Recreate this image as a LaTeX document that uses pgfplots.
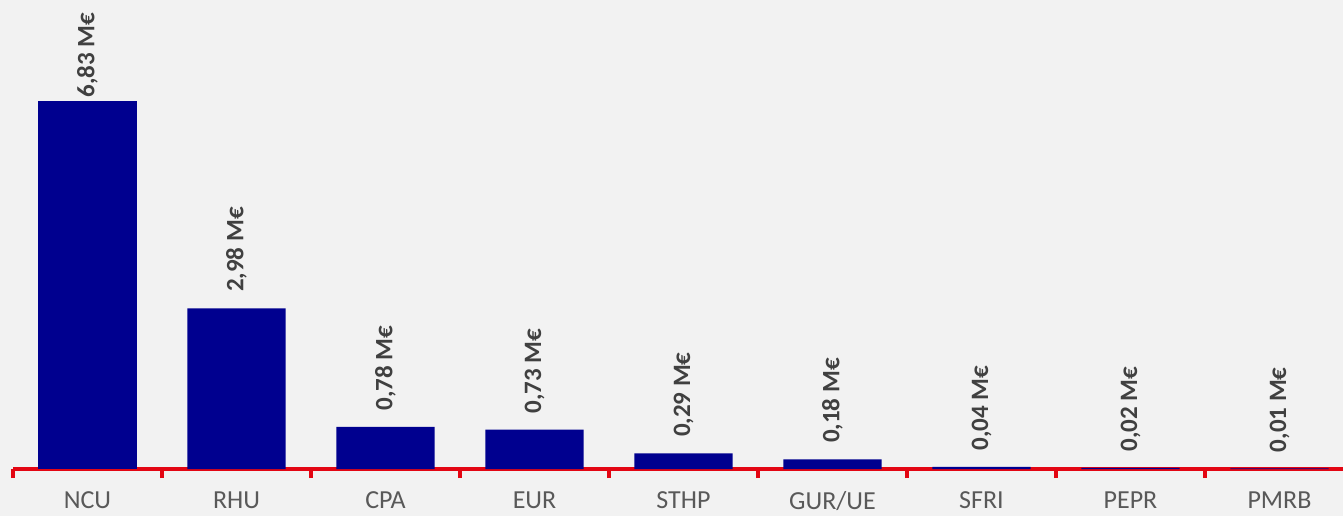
\documentclass[border=0pt]{standalone}
\usepackage{fontspec}
\setmainfont{Carlito}
\usepackage{pgfplots}
\pgfplotsset{compat=1.18}
\definecolor{bg}{HTML}{F2F2F2}
\definecolor{navy}{HTML}{00008F}
\definecolor{axred}{HTML}{E30613}
\definecolor{lbl}{HTML}{404040}
\definecolor{tickc}{HTML}{595959}
\begin{document}
\begin{tikzpicture}
\fill[bg] (0,0) rectangle (671.5pt,258pt);
\path[use as bounding box] (0,0) rectangle (671.5pt,258pt);
\begin{axis}[
  at={(6.5pt,23.5pt)}, anchor=south west,
  scale only axis, width=665pt, height=234.5pt,
  xmin=-0.5, xmax=8.4262, ymin=0, ymax=8.70,
  axis x line*=bottom, axis y line=none,
  x axis line style={axred, line width=1.7pt},
  ybar, bar width=0.66,
  xtick={0,...,8},
  xticklabels={NCU,RHU,CPA,EUR,STHP,GUR/UE,SFRI,PEPR,PMRB},
  major tick length=0pt,
  minor xtick={-0.5,0.5,...,7.5},
  minor tick length=4.5pt,
  tick align=outside,
  minor tick style={axred, line width=1.6pt},
  xticklabel style={font=\fontsize{13pt}{15pt}\selectfont, text=tickc, yshift=-9pt, inner ysep=2pt},
  clip=false,
  point meta=explicit symbolic,
  every node near coord/.append style={font=\bfseries\fontsize{12.5pt}{15pt}\selectfont, text=lbl, rotate=90, anchor=west},
]
\addplot[fill=navy, draw=none, bar shift=0pt, nodes near coords, every node near coord/.append style={inner xsep=1.5pt}] coordinates {(0,6.83) [6,83 M€]};
\addplot[fill=navy, draw=none, bar shift=0pt, nodes near coords, every node near coord/.append style={inner xsep=8pt}] coordinates {
(1,2.98) [2,98 M€]
(2,0.78) [0,78 M€]
(3,0.73) [0,73 M€]
(4,0.29) [0,29 M€]
(5,0.18) [0,18 M€]
(6,0.04) [0,04 M€]
(7,0.02) [0,02 M€]
(8,0.01) [0,01 M€]
};
\end{axis}
\end{tikzpicture}
\end{document}
